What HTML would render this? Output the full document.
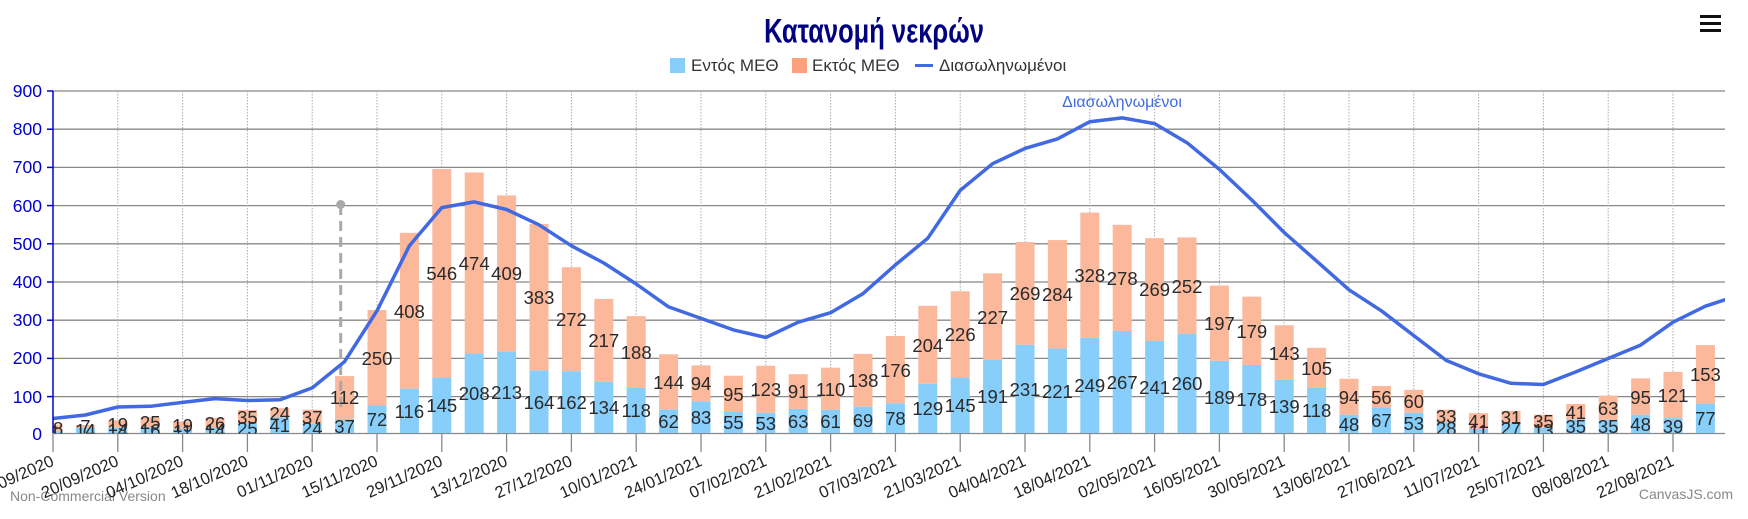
<!DOCTYPE html>
<html><head><meta charset="utf-8"><style>
html,body{margin:0;padding:0;background:#fff;}
svg{display:block;font-family:"Liberation Sans","DejaVu Sans",sans-serif;}
</style></head><body>
<svg width="1748" height="519" viewBox="0 0 1748 519" xmlns="http://www.w3.org/2000/svg">
<defs><clipPath id="pc"><rect x="53" y="80" width="1672" height="353.5"/></clipPath></defs>
<text x="874" y="37" text-anchor="middle" font-family="'Liberation Sans Narrow','Liberation Sans',sans-serif" font-weight="bold" font-size="30" fill="#000080" transform="translate(874 0) scale(0.85 1.15) translate(-874 0)">Κατανομή νεκρών</text>
<g fill="#111"><rect x="1700" y="15" width="21" height="3"/><rect x="1700" y="22" width="21" height="3"/><rect x="1700" y="29" width="21" height="3"/></g>
<g font-size="17" fill="#333">
<rect x="670" y="58" width="15" height="15" fill="#87cefa"/><text x="691" y="71">Εντός ΜΕΘ</text>
<rect x="792" y="58" width="15" height="15" fill="#fda07c"/><text x="812" y="71">Εκτός ΜΕΘ</text>
<rect x="915" y="64" width="18" height="3" fill="#4169e1"/><text x="939" y="71">Διασωληνωμένοι</text>
</g>
<g stroke="#888" stroke-width="1.3">
<line x1="53" x2="1725" y1="91" y2="91"/><line x1="53" x2="1725" y1="129.2" y2="129.2"/><line x1="53" x2="1725" y1="167.4" y2="167.4"/><line x1="53" x2="1725" y1="205.6" y2="205.6"/><line x1="53" x2="1725" y1="243.8" y2="243.8"/><line x1="53" x2="1725" y1="282" y2="282"/><line x1="53" x2="1725" y1="320.2" y2="320.2"/><line x1="53" x2="1725" y1="358.4" y2="358.4"/><line x1="53" x2="1725" y1="396.6" y2="396.6"/><line x1="53" x2="1725" y1="433.5" y2="433.5"/>
</g>
<g stroke="#aaa" stroke-width="1" stroke-dasharray="1.5,1.5">
<line x1="117.8" x2="117.8" y1="91" y2="433"/><line x1="182.6" x2="182.6" y1="91" y2="433"/><line x1="247.4" x2="247.4" y1="91" y2="433"/><line x1="312.2" x2="312.2" y1="91" y2="433"/><line x1="377" x2="377" y1="91" y2="433"/><line x1="441.8" x2="441.8" y1="91" y2="433"/><line x1="506.6" x2="506.6" y1="91" y2="433"/><line x1="571.4" x2="571.4" y1="91" y2="433"/><line x1="636.2" x2="636.2" y1="91" y2="433"/><line x1="701" x2="701" y1="91" y2="433"/><line x1="765.8" x2="765.8" y1="91" y2="433"/><line x1="830.6" x2="830.6" y1="91" y2="433"/><line x1="895.4" x2="895.4" y1="91" y2="433"/><line x1="960.2" x2="960.2" y1="91" y2="433"/><line x1="1025" x2="1025" y1="91" y2="433"/><line x1="1089.8" x2="1089.8" y1="91" y2="433"/><line x1="1154.6" x2="1154.6" y1="91" y2="433"/><line x1="1219.4" x2="1219.4" y1="91" y2="433"/><line x1="1284.2" x2="1284.2" y1="91" y2="433"/><line x1="1349" x2="1349" y1="91" y2="433"/><line x1="1413.8" x2="1413.8" y1="91" y2="433"/><line x1="1478.6" x2="1478.6" y1="91" y2="433"/><line x1="1543.4" x2="1543.4" y1="91" y2="433"/><line x1="1608.2" x2="1608.2" y1="91" y2="433"/><line x1="1673" x2="1673" y1="91" y2="433"/>
</g>
<g clip-path="url(#pc)">
<g transform="translate(0 433) scale(1 -0.382)">
<g fill="#87cefa">
<rect x="43.5" y="0" width="19" height="4"/><rect x="75.9" y="0" width="19" height="14"/><rect x="108.3" y="0" width="19" height="14"/><rect x="140.7" y="0" width="19" height="16"/><rect x="173.1" y="0" width="19" height="11"/><rect x="205.5" y="0" width="19" height="14"/><rect x="237.9" y="0" width="19" height="25"/><rect x="270.3" y="0" width="19" height="41"/><rect x="302.7" y="0" width="19" height="24"/><rect x="335.1" y="0" width="19" height="37"/><rect x="367.5" y="0" width="19" height="72"/><rect x="399.9" y="0" width="19" height="116"/><rect x="432.3" y="0" width="19" height="145"/><rect x="464.7" y="0" width="19" height="208"/><rect x="497.1" y="0" width="19" height="213"/><rect x="529.5" y="0" width="19" height="164"/><rect x="561.9" y="0" width="19" height="162"/><rect x="594.3" y="0" width="19" height="134"/><rect x="626.7" y="0" width="19" height="118"/><rect x="659.1" y="0" width="19" height="62"/><rect x="691.5" y="0" width="19" height="83"/><rect x="723.9" y="0" width="19" height="55"/><rect x="756.3" y="0" width="19" height="53"/><rect x="788.7" y="0" width="19" height="63"/><rect x="821.1" y="0" width="19" height="61"/><rect x="853.5" y="0" width="19" height="69"/><rect x="885.9" y="0" width="19" height="78"/><rect x="918.3" y="0" width="19" height="129"/><rect x="950.7" y="0" width="19" height="145"/><rect x="983.1" y="0" width="19" height="191"/><rect x="1015.5" y="0" width="19" height="231"/><rect x="1047.9" y="0" width="19" height="221"/><rect x="1080.3" y="0" width="19" height="249"/><rect x="1112.7" y="0" width="19" height="267"/><rect x="1145.1" y="0" width="19" height="241"/><rect x="1177.5" y="0" width="19" height="260"/><rect x="1209.9" y="0" width="19" height="189"/><rect x="1242.3" y="0" width="19" height="178"/><rect x="1274.7" y="0" width="19" height="139"/><rect x="1307.1" y="0" width="19" height="118"/><rect x="1339.5" y="0" width="19" height="48"/><rect x="1371.9" y="0" width="19" height="67"/><rect x="1404.3" y="0" width="19" height="53"/><rect x="1436.7" y="0" width="19" height="28"/><rect x="1469.1" y="0" width="19" height="11"/><rect x="1501.5" y="0" width="19" height="27"/><rect x="1533.9" y="0" width="19" height="13"/><rect x="1566.3" y="0" width="19" height="35"/><rect x="1598.7" y="0" width="19" height="35"/><rect x="1631.1" y="0" width="19" height="48"/><rect x="1663.5" y="0" width="19" height="39"/><rect x="1695.9" y="0" width="19" height="77"/>
</g>
<g fill="#fbb89b">
<rect x="43.5" y="4" width="19" height="18"/><rect x="75.9" y="14" width="19" height="7"/><rect x="108.3" y="14" width="19" height="19"/><rect x="140.7" y="16" width="19" height="25"/><rect x="173.1" y="11" width="19" height="19"/><rect x="205.5" y="14" width="19" height="26"/><rect x="237.9" y="25" width="19" height="35"/><rect x="270.3" y="41" width="19" height="24"/><rect x="302.7" y="24" width="19" height="37"/><rect x="335.1" y="37" width="19" height="112"/><rect x="367.5" y="72" width="19" height="250"/><rect x="399.9" y="116" width="19" height="408"/><rect x="432.3" y="145" width="19" height="546"/><rect x="464.7" y="208" width="19" height="474"/><rect x="497.1" y="213" width="19" height="409"/><rect x="529.5" y="164" width="19" height="383"/><rect x="561.9" y="162" width="19" height="272"/><rect x="594.3" y="134" width="19" height="217"/><rect x="626.7" y="118" width="19" height="188"/><rect x="659.1" y="62" width="19" height="144"/><rect x="691.5" y="83" width="19" height="94"/><rect x="723.9" y="55" width="19" height="95"/><rect x="756.3" y="53" width="19" height="123"/><rect x="788.7" y="63" width="19" height="91"/><rect x="821.1" y="61" width="19" height="110"/><rect x="853.5" y="69" width="19" height="138"/><rect x="885.9" y="78" width="19" height="176"/><rect x="918.3" y="129" width="19" height="204"/><rect x="950.7" y="145" width="19" height="226"/><rect x="983.1" y="191" width="19" height="227"/><rect x="1015.5" y="231" width="19" height="269"/><rect x="1047.9" y="221" width="19" height="284"/><rect x="1080.3" y="249" width="19" height="328"/><rect x="1112.7" y="267" width="19" height="278"/><rect x="1145.1" y="241" width="19" height="269"/><rect x="1177.5" y="260" width="19" height="252"/><rect x="1209.9" y="189" width="19" height="197"/><rect x="1242.3" y="178" width="19" height="179"/><rect x="1274.7" y="139" width="19" height="143"/><rect x="1307.1" y="118" width="19" height="105"/><rect x="1339.5" y="48" width="19" height="94"/><rect x="1371.9" y="67" width="19" height="56"/><rect x="1404.3" y="53" width="19" height="60"/><rect x="1436.7" y="28" width="19" height="33"/><rect x="1469.1" y="11" width="19" height="41"/><rect x="1501.5" y="27" width="19" height="31"/><rect x="1533.9" y="13" width="19" height="35"/><rect x="1566.3" y="35" width="19" height="41"/><rect x="1598.7" y="35" width="19" height="63"/><rect x="1631.1" y="48" width="19" height="95"/><rect x="1663.5" y="39" width="19" height="121"/><rect x="1695.9" y="77" width="19" height="153"/>
</g>
</g>
<line x1="340.7" x2="340.7" y1="205" y2="412" stroke="#a9a9a9" stroke-width="3" stroke-dasharray="10,6"/>
<circle cx="340.7" cy="204.5" r="4.5" fill="#a9a9a9"/>
<polyline fill="none" stroke="#4169e1" stroke-width="3.5" stroke-linejoin="round" points="53,418.5 85.4,415 117.8,407 150.2,406.3 182.6,402.4 215,398.6 247.4,400.5 279.8,399.8 312.2,387.9 344.6,361.6 377,310.8 409.4,245.8 441.8,207.6 474.2,201.9 506.6,209.5 539,224.8 571.4,245.8 603.8,263 636.2,284 668.6,306.9 701,318.4 733.4,329.9 765.8,337.5 798.2,322.2 830.6,312.7 863,293.6 895.4,264.9 927.8,238.2 960.2,190.4 992.6,163.7 1025,148.4 1057.4,138.9 1089.8,121.7 1122.2,117.9 1154.6,123.6 1187,142.7 1219.4,169.4 1251.8,200 1284.2,232.5 1316.6,261.1 1349,289.8 1381.4,310.8 1413.8,335.6 1446.2,360.4 1478.6,373.8 1511,383.3 1543.4,384.5 1575.8,371.9 1608.2,358.5 1640.6,345.1 1673,322.2 1705.4,306.2 1737.8,295.5"/>
<g font-size="18.5" fill="#2a2a2a" text-anchor="middle">
<text x="53" y="439">4</text><text x="85.4" y="437">14</text><text x="117.8" y="437">14</text><text x="150.2" y="437">16</text><text x="182.6" y="438">11</text><text x="215" y="437">14</text><text x="247.4" y="435">25</text><text x="279.8" y="432">41</text><text x="312.2" y="435">24</text><text x="344.6" y="433">37</text><text x="377" y="426">72</text><text x="409.4" y="418">116</text><text x="441.8" y="412">145</text><text x="474.2" y="400">208</text><text x="506.6" y="399">213</text><text x="539" y="409">164</text><text x="571.4" y="409">162</text><text x="603.8" y="414">134</text><text x="636.2" y="417">118</text><text x="668.6" y="428">62</text><text x="701" y="424">83</text><text x="733.4" y="429">55</text><text x="765.8" y="430">53</text><text x="798.2" y="428">63</text><text x="830.6" y="428">61</text><text x="863" y="427">69</text><text x="895.4" y="425">78</text><text x="927.8" y="415">129</text><text x="960.2" y="412">145</text><text x="992.6" y="403">191</text><text x="1025" y="396">231</text><text x="1057.4" y="398">221</text><text x="1089.8" y="392">249</text><text x="1122.2" y="389">267</text><text x="1154.6" y="394">241</text><text x="1187" y="390">260</text><text x="1219.4" y="404">189</text><text x="1251.8" y="406">178</text><text x="1284.2" y="413">139</text><text x="1316.6" y="417">118</text><text x="1349" y="431">48</text><text x="1381.4" y="427">67</text><text x="1413.8" y="430">53</text><text x="1446.2" y="435">28</text><text x="1478.6" y="438">11</text><text x="1511" y="435">27</text><text x="1543.4" y="437">13</text><text x="1575.8" y="433">35</text><text x="1608.2" y="433">35</text><text x="1640.6" y="431">48</text><text x="1673" y="433">39</text><text x="1705.4" y="425">77</text>
<text x="53" y="435">18</text><text x="85.4" y="433">7</text><text x="117.8" y="431">19</text><text x="150.2" y="429">25</text><text x="182.6" y="432">19</text><text x="215" y="430">26</text><text x="247.4" y="424">35</text><text x="279.8" y="420">24</text><text x="312.2" y="424">37</text><text x="344.6" y="404">112</text><text x="377" y="365">250</text><text x="409.4" y="318">408</text><text x="441.8" y="280">546</text><text x="474.2" y="270">474</text><text x="506.6" y="280">409</text><text x="539" y="304">383</text><text x="571.4" y="326">272</text><text x="603.8" y="347">217</text><text x="636.2" y="359">188</text><text x="668.6" y="389">144</text><text x="701" y="390">94</text><text x="733.4" y="401">95</text><text x="765.8" y="396">123</text><text x="798.2" y="398">91</text><text x="830.6" y="396">110</text><text x="863" y="387">138</text><text x="895.4" y="377">176</text><text x="927.8" y="352">204</text><text x="960.2" y="341">226</text><text x="992.6" y="324">227</text><text x="1025" y="300">269</text><text x="1057.4" y="301">284</text><text x="1089.8" y="282">328</text><text x="1122.2" y="285">278</text><text x="1154.6" y="296">269</text><text x="1187" y="293">252</text><text x="1219.4" y="330">197</text><text x="1251.8" y="338">179</text><text x="1284.2" y="360">143</text><text x="1316.6" y="375">105</text><text x="1349" y="404">94</text><text x="1381.4" y="404">56</text><text x="1413.8" y="408">60</text><text x="1446.2" y="423">33</text><text x="1478.6" y="428">41</text><text x="1511" y="424">31</text><text x="1543.4" y="428">35</text><text x="1575.8" y="419">41</text><text x="1608.2" y="415">63</text><text x="1640.6" y="404">95</text><text x="1673" y="402">121</text><text x="1705.4" y="381">153</text>
</g>
</g>
<text x="1122" y="107" text-anchor="middle" font-size="16" fill="#4169e1">Διασωληνωμένοι</text>
<line x1="53" x2="53" y1="91" y2="433" stroke="#0000cd" stroke-width="1.5"/>
<g stroke="#0000cd" stroke-width="1.5"><line x1="47" x2="53" y1="91" y2="91"/><line x1="47" x2="53" y1="129.2" y2="129.2"/><line x1="47" x2="53" y1="167.4" y2="167.4"/><line x1="47" x2="53" y1="205.6" y2="205.6"/><line x1="47" x2="53" y1="243.8" y2="243.8"/><line x1="47" x2="53" y1="282" y2="282"/><line x1="47" x2="53" y1="320.2" y2="320.2"/><line x1="47" x2="53" y1="358.4" y2="358.4"/><line x1="47" x2="53" y1="396.6" y2="396.6"/></g>
<g font-size="17.5" fill="#0000cd" text-anchor="end">
<text x="42" y="97">900</text><text x="42" y="135">800</text><text x="42" y="173">700</text><text x="42" y="212">600</text><text x="42" y="250">500</text><text x="42" y="288">400</text><text x="42" y="326">300</text><text x="42" y="364">200</text><text x="42" y="403">100</text><text x="42" y="440">0</text>
</g>
<g stroke="#888" stroke-width="1.3">
<line x1="53" x2="53" y1="433" y2="452"/><line x1="117.8" x2="117.8" y1="433" y2="452"/><line x1="182.6" x2="182.6" y1="433" y2="452"/><line x1="247.4" x2="247.4" y1="433" y2="452"/><line x1="312.2" x2="312.2" y1="433" y2="452"/><line x1="377" x2="377" y1="433" y2="452"/><line x1="441.8" x2="441.8" y1="433" y2="452"/><line x1="506.6" x2="506.6" y1="433" y2="452"/><line x1="571.4" x2="571.4" y1="433" y2="452"/><line x1="636.2" x2="636.2" y1="433" y2="452"/><line x1="701" x2="701" y1="433" y2="452"/><line x1="765.8" x2="765.8" y1="433" y2="452"/><line x1="830.6" x2="830.6" y1="433" y2="452"/><line x1="895.4" x2="895.4" y1="433" y2="452"/><line x1="960.2" x2="960.2" y1="433" y2="452"/><line x1="1025" x2="1025" y1="433" y2="452"/><line x1="1089.8" x2="1089.8" y1="433" y2="452"/><line x1="1154.6" x2="1154.6" y1="433" y2="452"/><line x1="1219.4" x2="1219.4" y1="433" y2="452"/><line x1="1284.2" x2="1284.2" y1="433" y2="452"/><line x1="1349" x2="1349" y1="433" y2="452"/><line x1="1413.8" x2="1413.8" y1="433" y2="452"/><line x1="1478.6" x2="1478.6" y1="433" y2="452"/><line x1="1543.4" x2="1543.4" y1="433" y2="452"/><line x1="1608.2" x2="1608.2" y1="433" y2="452"/><line x1="1673" x2="1673" y1="433" y2="452"/>
</g>
<text x="10" y="501" font-size="14" fill="#888">Non-Commercial Version</text>
<text x="1733" y="499" font-size="14" fill="#888" text-anchor="end">CanvasJS.com</text>
<g font-size="16.5" fill="#222" text-anchor="end">
<text transform="translate(55 465) rotate(-24)">06/09/2020</text><text transform="translate(119.8 465) rotate(-24)">20/09/2020</text><text transform="translate(184.6 465) rotate(-24)">04/10/2020</text><text transform="translate(249.4 465) rotate(-24)">18/10/2020</text><text transform="translate(314.2 465) rotate(-24)">01/11/2020</text><text transform="translate(379 465) rotate(-24)">15/11/2020</text><text transform="translate(443.8 465) rotate(-24)">29/11/2020</text><text transform="translate(508.6 465) rotate(-24)">13/12/2020</text><text transform="translate(573.4 465) rotate(-24)">27/12/2020</text><text transform="translate(638.2 465) rotate(-24)">10/01/2021</text><text transform="translate(703 465) rotate(-24)">24/01/2021</text><text transform="translate(767.8 465) rotate(-24)">07/02/2021</text><text transform="translate(832.6 465) rotate(-24)">21/02/2021</text><text transform="translate(897.4 465) rotate(-24)">07/03/2021</text><text transform="translate(962.2 465) rotate(-24)">21/03/2021</text><text transform="translate(1027 465) rotate(-24)">04/04/2021</text><text transform="translate(1091.8 465) rotate(-24)">18/04/2021</text><text transform="translate(1156.6 465) rotate(-24)">02/05/2021</text><text transform="translate(1221.4 465) rotate(-24)">16/05/2021</text><text transform="translate(1286.2 465) rotate(-24)">30/05/2021</text><text transform="translate(1351 465) rotate(-24)">13/06/2021</text><text transform="translate(1415.8 465) rotate(-24)">27/06/2021</text><text transform="translate(1480.6 465) rotate(-24)">11/07/2021</text><text transform="translate(1545.4 465) rotate(-24)">25/07/2021</text><text transform="translate(1610.2 465) rotate(-24)">08/08/2021</text><text transform="translate(1675 465) rotate(-24)">22/08/2021</text>
</g>
</svg>
</body></html>
